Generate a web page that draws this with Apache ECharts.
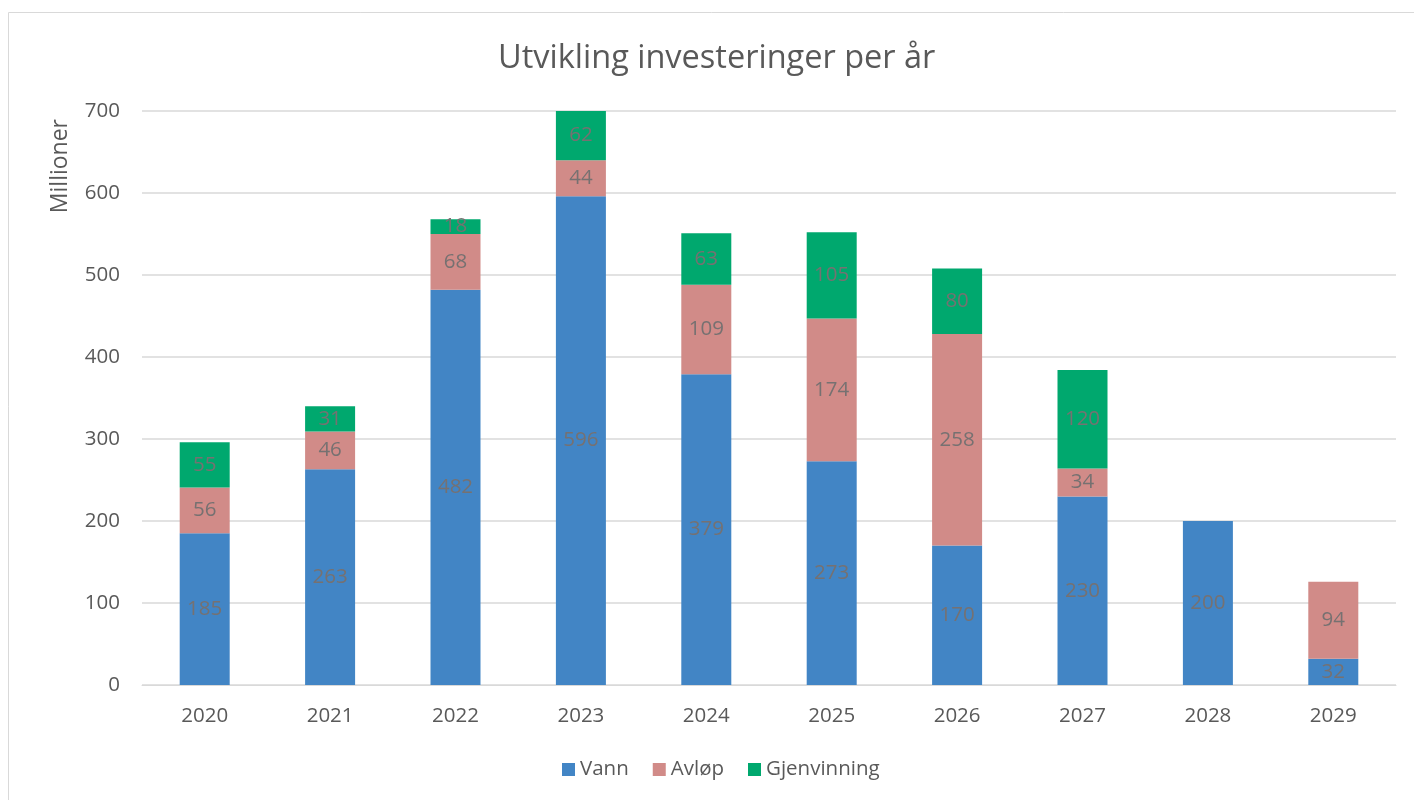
<!DOCTYPE html>
<html>
<head>
<meta charset="utf-8">
<script src="https://cdn.jsdelivr.net/npm/echarts@6/dist/echarts.min.js"></script>
<style>html,body{margin:0;padding:0;background:#fff;}#c{width:1414px;height:800px;}</style>
</head>
<body>
<div id="c"></div>
<script>
const categories = ['2020','2021','2022','2023','2024','2025','2026','2027','2028','2029'];
const vann = [185, 263, 482, 596, 379, 273, 170, 230, 200, 32];
const avlop = [56, 46, 68, 44, 109, 174, 258, 34, null, 94];
const gjenvinning = [55, 31, 18, 62, 63, 105, 80, 120, null, null];
const yTicks = [0, 100, 200, 300, 400, 500, 600, 700];

const FONT = 'Open Sans';
const chart = echarts.init(document.getElementById('c'), null, {renderer: 'canvas'});
const label = {show: true, position: 'inside', color: '#767171', fontSize: 20.5, fontFamily: FONT};
function mk(name, data, color) {
  return {
    name, type: 'bar', stack: 'total', data, barWidth: 50,
    itemStyle: {color}, label, clip: true,
    emphasis: {disabled: true}
  };
}
chart.setOption({
  animation: false,
  textStyle: {fontFamily: FONT},
  graphic: [{type: 'rect', shape: {x: 8.5, y: 12.5, width: 1420, height: 800}, style: {fill: 'none', stroke: '#d9d9d9', lineWidth: 1}, silent: true}],
  title: {text: 'Utvikling investeringer per år', left: 493, top: 37,
    textStyle: {color: '#595959', fontSize: 32.5, fontWeight: 'normal', fontFamily: FONT}},
  legend: {bottom: 15, left: 557, itemWidth: 13, itemHeight: 13, itemGap: 24, icon: 'rect',
    textStyle: {color: '#595959', fontSize: 20.5, fontFamily: FONT},
    data: ['Vann', 'Avløp', 'Gjenvinning']},
  grid: {left: 142, right: 18, top: 111, bottom: 115, containLabel: false},
  xAxis: {type: 'category', data: categories,
    axisLine: {show: true, lineStyle: {color: '#d9d9d9', width: 1}},
    axisTick: {show: false},
    axisLabel: {color: '#595959', fontSize: 20.5, margin: 21, fontFamily: FONT}},
  yAxis: {type: 'value', min: yTicks[0], max: yTicks[yTicks.length-1], interval: 100,
    name: 'Millioner', nameLocation: 'end', nameRotate: 90, nameGap: 0,
    nameTextStyle: {color: '#595959', fontSize: 23, fontFamily: FONT, align: 'right', verticalAlign: 'bottom', padding: [0, 8, 70, 0]},
    axisLine: {show: false}, axisTick: {show: false},
    splitLine: {lineStyle: {color: '#d9d9d9', width: 1.5}},
    axisLabel: {color: '#595959', fontSize: 20.5, margin: 22, fontFamily: FONT}},
  series: [
    mk('Vann', vann, '#4285C5'),
    mk('Avløp', avlop, '#D18B88'),
    mk('Gjenvinning', gjenvinning, '#00A86E')
  ]
});
</script>
</body>
</html>
